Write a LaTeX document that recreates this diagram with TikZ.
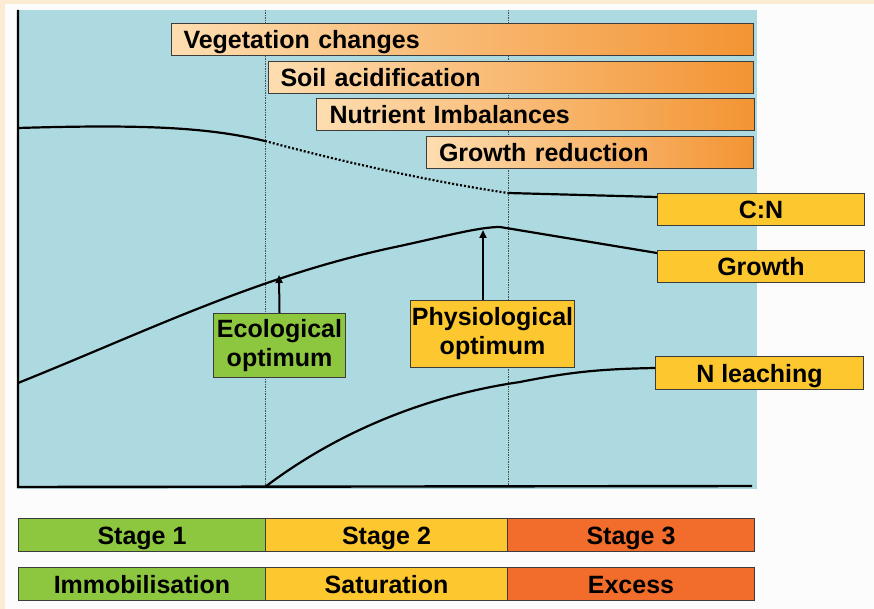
\documentclass[tikz,border=0pt]{standalone}
\usepackage{fontspec}
\setmainfont{Liberation Sans}
\usetikzlibrary{arrows.meta}
\definecolor{cream}{HTML}{FBEBD2}
\definecolor{paper}{HTML}{FDFCFD}
\definecolor{plotblue}{HTML}{ADDAE0}
\definecolor{peach}{HTML}{FDDDB0}
\definecolor{deeporange}{HTML}{F39433}
\definecolor{stageyellow}{HTML}{FDC82F}
\definecolor{stagegreen}{HTML}{8DC63F}
\definecolor{stageorange}{HTML}{F26C2B}
\definecolor{edge}{HTML}{3C3C3C}
\newcommand\labfont{\fontsize{25}{27}\selectfont\bfseries}
\newcommand\twofont{\fontsize{25}{29}\selectfont\bfseries}
\tikzset{
  boxbase/.style={draw=edge, line width=1pt, inner sep=0pt, font=\labfont, anchor=north west},
  onebox/.style={boxbase, text height=18pt, text depth=0pt},
  barbox/.style={onebox, left color=peach, right color=deeporange, inner xsep=12pt, align=left, minimum height=32pt},
  twobox/.style={boxbase, font=\twofont, align=center},
  curve/.style={line width=2.2pt, black},
  guide/.style={densely dotted, line width=0.7pt, black!70},
  arr/.style={line width=2pt, -{Triangle[length=8pt,width=7pt]}}
}
\begin{document}
\begin{tikzpicture}[x=1pt,y=-1pt]
\useasboundingbox (0,0) rectangle (874,609);
% background
\fill[cream] (0,0) rectangle (874,609);
\fill[paper] (5,4) rectangle (874,609);
\fill[plotblue] (17,10) rectangle (757,489);
% guides
\coordinate (g1t) at (265,10); \coordinate (g1b) at (265,487);
\coordinate (g2t) at (508,10); \coordinate (g2b) at (508,487);
\draw[guide] (g1t) -- (g1b);
\draw[guide] (g2t) -- (g2b);
% axes
\coordinate (ax0) at (18,10); \coordinate (axo) at (18,487); \coordinate (axr) at (752,486);
\draw[line width=2.4pt] (ax0) -- (axo) -- (axr);
% impact bars
\node[barbox, minimum width=582pt, text width=558pt] (veg) at (171,23) {Vegetation changes};
\node[barbox, minimum width=485pt, text width=461pt] (soil) at (268,61) {Soil acidification};
\node[barbox, minimum width=437pt, text width=412pt, inner xsep=13pt] (nut) at (316,98) {Nutrient Imbalances};
\node[barbox, minimum width=327pt, text width=302pt, inner xsep=12.5pt] (red) at (426,136) {Growth reduction};
% right labels
\node[onebox, fill=stageyellow, minimum width=207pt, minimum height=32pt] (cn) at (657,193) {C:N};
\node[onebox, fill=stageyellow, minimum width=207pt, minimum height=32pt] (gr) at (657,250) {Growth};
\node[onebox, fill=stageyellow, minimum width=208pt, minimum height=33pt] (nl) at (655,356) {N leaching};
% C:N curve
\coordinate (cn0) at (18,128);
\coordinate (cn1) at (265,141);
\coordinate (cn2) at (508,193);
\draw[curve] (cn0) .. controls (150,124) and (210,128) .. (cn1);
\draw[line width=2.2pt, dash pattern=on 2pt off 2pt] (cn1) .. controls (350,164) and (440,183) .. (cn2);
\draw[curve] (cn2) -- ([yshift=-4pt]cn.north west);
% Growth curve
\coordinate (gr0) at (18,383);
\coordinate (gr1) at (400,246);
\coordinate (gr2) at (500,227);
\draw[curve] (gr0) .. controls (150,330) and (260,275) .. (gr1)
  .. controls (450,235) and (480,227) .. (gr2) -- ([yshift=-3pt]gr.north west);
% N leaching curve
\coordinate (nl0) at (265,487);
\coordinate (nl1) at (520,382);
\draw[curve] (nl0) .. controls (340,430) and (430,395) .. (nl1)
  .. controls (570,372) and (600,369) .. ([yshift=-12pt]nl.north west);
% optimum boxes
\node[twobox, fill=stagegreen, minimum width=132pt, minimum height=64pt] (eco) at (213,313) {Ecological\\optimum};
\node[twobox, fill=stageyellow, minimum width=164pt, minimum height=67pt] (phys) at (410,300) {Physiological\\optimum};
\coordinate (ecotip) at (279,275);
\coordinate (phystip) at (483,230);
\draw[arr] (eco.north) -- (ecotip);
\draw[arr] (phystip |- phys.north) -- (phystip);
% stage rows
\node[onebox, fill=stagegreen, minimum width=247pt, minimum height=33pt] (s1) at (18,518) {Stage 1};
\node[onebox, fill=stageyellow, minimum width=242pt, minimum height=33pt] (s2) at (265,518) {Stage 2};
\node[onebox, fill=stageorange, minimum width=247pt, minimum height=33pt] (s3) at (507,518) {Stage 3};
\node[onebox, fill=stagegreen, minimum width=247pt, minimum height=33pt] (p1) at (18,567) {Immobilisation};
\node[onebox, fill=stageyellow, minimum width=242pt, minimum height=33pt] (p2) at (265,567) {Saturation};
\node[onebox, fill=stageorange, minimum width=247pt, minimum height=33pt] (p3) at (507,567) {Excess};
\end{tikzpicture}
\end{document}
